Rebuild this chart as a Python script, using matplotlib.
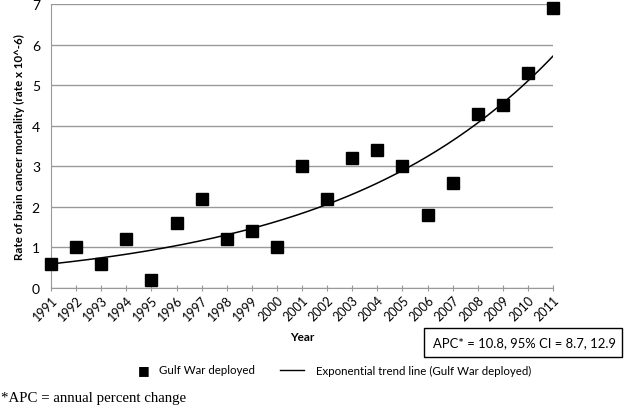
import numpy as np
import matplotlib.pyplot as plt

years = [1991, 1992, 1993, 1994, 1995, 1996, 1997, 1998, 1999, 2000, 2001,
         2002, 2003, 2004, 2005, 2006, 2007, 2008, 2009, 2010, 2011]
rates = [0.6, 1.0, 0.6, 1.2, 0.2, 1.6, 2.2, 1.2, 1.4, 1.0, 3.0,
         2.2, 3.2, 3.4, 3.0, 1.8, 2.6, 4.3, 4.5, 5.3, 6.9]
y_ticks = [0, 1, 2, 3, 4, 5, 6, 7]
apc_text = "APC* = 10.8, 95% CI = 8.7, 12.9"
footnote = "*APC = annual percent change"

plt.rcParams['font.family'] = ['Lato', 'DejaVu Sans']

W, H = 625, 406
fig = plt.figure(figsize=(6.25, 4.06), dpi=100)
ax = fig.add_axes([51 / W, 1 - 289 / H, 502 / W, 284 / H])

# exponential trend (log-linear fit, like Excel)
x = np.array(years, dtype=float)
y = np.array(rates)
b, a = np.polyfit(x - x[0], np.log(y), 1)
xs = np.linspace(x[0], x[-1], 200)
ax.plot(xs, np.exp(a + b * (xs - x[0])), color='black', lw=1.1, zorder=3)

ax.plot(years, rates, 's', color='black', markersize=8.5, clip_on=False, zorder=4)

ax.set_xlim(1991, 2011)
ax.set_ylim(0, 7)
ax.set_yticks(y_ticks)
ax.set_xticks(years)
ax.set_xticklabels([str(v) for v in years], rotation=45, ha='right',
                   rotation_mode='anchor', fontsize=9)
ax.tick_params(axis='y', length=0, labelsize=10, pad=8)
ax.tick_params(axis='x', length=4, color='#999999', direction='inout', pad=2)
ax.grid(axis='y', color='#999999', lw=1)
ax.set_axisbelow(True)
for s in ['top', 'right']:
    ax.spines[s].set_visible(False)
ax.spines['left'].set_color('#999999')
ax.spines['bottom'].set_color('#999999')

ax.set_ylabel("Rate of brain cancer mortality (rate x 10^-6)", fontsize=8.3,
              fontweight='bold', labelpad=5)
fig.text(302 / W, 1 - 338 / H, "Year", fontsize=8.5, fontweight='bold',
         ha='center', va='center')

# legend
fig.text(144 / W, 1 - 371 / H, "\u25a0", fontsize=9, ha='center', va='center',
         family=['DejaVu Sans'])
fig.text(159 / W, 1 - 371 / H, "Gulf War deployed", fontsize=8.3, va='center')
fig.add_artist(plt.Line2D([280 / W, 304 / W], [1 - 371 / H, 1 - 371 / H],
                          color='black', lw=1))
fig.text(316 / W, 1 - 371 / H, "Exponential trend line (Gulf War deployed)",
         fontsize=8.3, va='center')

# APC box
fig.add_artist(plt.Rectangle((424 / W, 1 - 358 / H), 198 / W, 29 / H,
                             fill=False, edgecolor='black', lw=1))
fig.text(433 / W, 1 - 343 / H, apc_text, fontsize=9.4, va='center')

fig.text(0.002, 1 - 399 / H, footnote, fontsize=10.7, va='center',
         family=['Liberation Serif'])

fig.savefig("out.png", dpi=100)
